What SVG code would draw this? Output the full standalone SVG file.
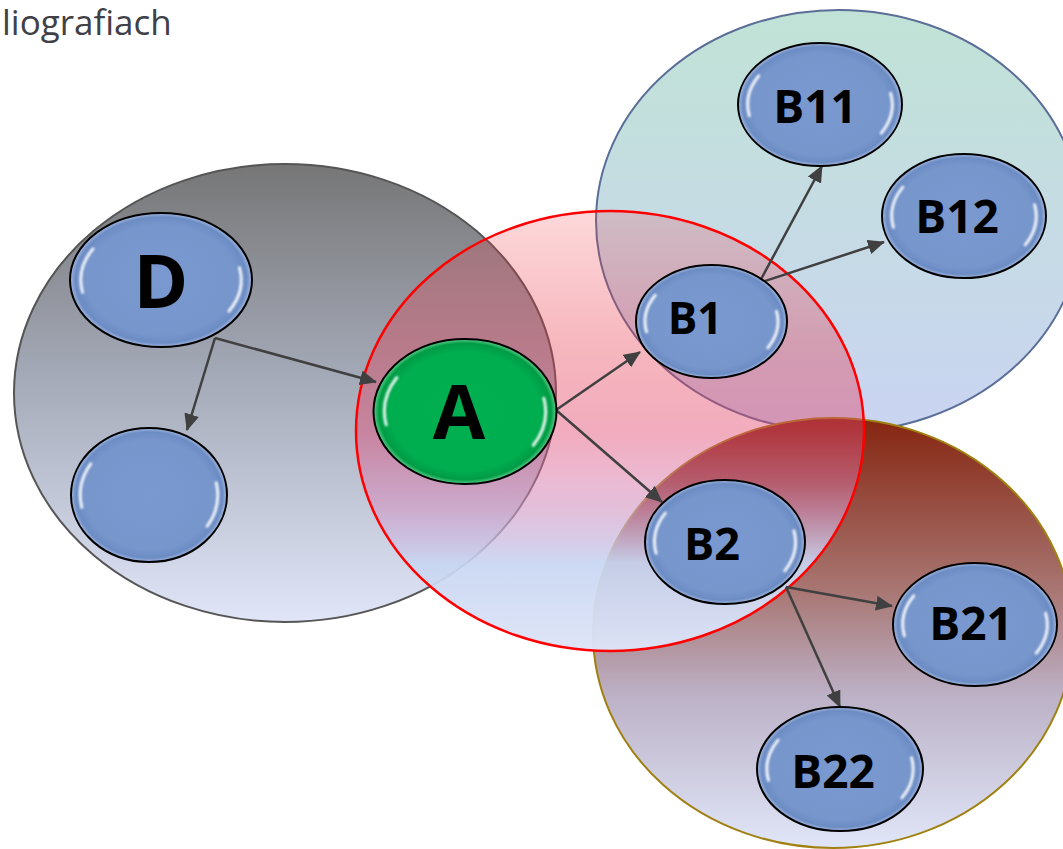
<svg xmlns="http://www.w3.org/2000/svg" width="1063" height="849" viewBox="0 0 1063 849">
<style>
.big{stroke-width:2}
.node{stroke:#000;stroke-width:2}
.hl{fill:none;stroke:#fff;stroke-width:3;stroke-linecap:round;opacity:.9;filter:url(#blur)}
.lbl{font-family:"Open Sans","Liberation Sans",Arial,sans-serif;font-weight:700;fill:#000;text-anchor:middle}
.edge{stroke:#404040;stroke-width:2.5;fill:none;marker-end:url(#ah)}
.title{font-family:"Open Sans","Liberation Sans",sans-serif;font-size:35px;fill:#404048}
</style>
<defs>
<filter id="blur" x="-50%" y="-50%" width="200%" height="200%"><feGaussianBlur stdDeviation="0.8"/></filter>
<marker id="ah" markerUnits="userSpaceOnUse" markerWidth="17" markerHeight="15" refX="16" refY="7.5" orient="auto">
<path d="M0,0 L17,7.5 L0,15 z" fill="#404040"/>
</marker>
<linearGradient id="gGray" x1="0" y1="0" x2="0" y2="1">
<stop offset="0" stop-color="#767676"/>
<stop offset="0.45" stop-color="#a3a8b6"/>
<stop offset="1" stop-color="#e0e6f8"/>
</linearGradient>
<linearGradient id="gTeal" x1="0" y1="0" x2="0" y2="1">
<stop offset="0" stop-color="#c1e3d6"/>
<stop offset="1" stop-color="#cad4f2"/>
</linearGradient>
<linearGradient id="gBrown" x1="0" y1="0" x2="0" y2="1">
<stop offset="0" stop-color="#862510"/>
<stop offset="0.4" stop-color="#a87672"/>
<stop offset="0.65" stop-color="#bdb2c8"/>
<stop offset="1" stop-color="#e0e6f8"/>
</linearGradient>
<linearGradient id="gRed" x1="0" y1="0" x2="0" y2="1">
<stop offset="0" stop-color="#f03c46" stop-opacity="0.2"/>
<stop offset="0.3" stop-color="#e63246" stop-opacity="0.35"/>
<stop offset="0.5" stop-color="#e1466e" stop-opacity="0.45"/>
<stop offset="0.62" stop-color="#d778aa" stop-opacity="0.5"/>
<stop offset="0.72" stop-color="#cdafd7" stop-opacity="0.7"/>
<stop offset="0.8" stop-color="#c8d6f2" stop-opacity="0.92"/>
<stop offset="1" stop-color="#dee4f7" stop-opacity="0.97"/>
</linearGradient>
<radialGradient id="gNode" cx="0.5" cy="0.5" r="0.5">
<stop offset="0" stop-color="#7a99d0"/>
<stop offset="0.82" stop-color="#7696cc"/>
<stop offset="0.94" stop-color="#6c8cc4"/>
<stop offset="1" stop-color="#a3b8e0"/>
</radialGradient>
<radialGradient id="gGreen" cx="0.5" cy="0.5" r="0.5">
<stop offset="0" stop-color="#00b050"/>
<stop offset="0.82" stop-color="#00ad4f"/>
<stop offset="0.94" stop-color="#009c45"/>
<stop offset="1" stop-color="#5fd08c"/>
</radialGradient>
</defs>
<rect width="1063" height="849" fill="#fff"/>
<text class="title" x="2" y="35">liografiach</text>

<g id="group-D">
<ellipse class="big" cx="285" cy="393" rx="271" ry="229" fill="url(#gGray)" stroke="#555"/>
</g>
<g id="group-B1">
<ellipse class="big" cx="839" cy="221" rx="243" ry="211" fill="url(#gTeal)" stroke="#5a6e98"/>
</g>
<g id="group-B2">
<ellipse class="big" cx="833" cy="633" rx="240" ry="215" fill="url(#gBrown)" stroke="#a08010"/>
</g>
<g id="group-A">
<ellipse cx="610" cy="431" rx="254" ry="220" fill="url(#gRed)" stroke="#ff0000" stroke-width="2.5"/>
</g>

<g id="connectors">
<line class="edge" x1="215" y1="338" x2="376" y2="382"/>
<line class="edge" x1="215" y1="338" x2="187" y2="430"/>
<line class="edge" x1="556" y1="410" x2="640" y2="352"/>
<line class="edge" x1="556" y1="410" x2="662" y2="502"/>
<line class="edge" x1="759" y1="283" x2="822" y2="166"/>
<line class="edge" x1="759" y1="283" x2="884" y2="242"/>
<line class="edge" x1="786" y1="587" x2="892" y2="606"/>
<line class="edge" x1="786" y1="587" x2="840" y2="707"/>
</g>

<g id="node-D" transform="translate(161,280)">
<ellipse class="node" rx="91" ry="67" fill="url(#gNode)"/>
<path class="hl" d="M -78.4 12.3 A 80.1 59 0 0 1 -67.9 -31.2"/>
<path class="hl" d="M 78.4 -12.3 A 80.1 59 0 0 1 67.9 31.2"/>
<text class="lbl" x="0" y="28" font-size="74">D</text>
</g>
<g id="node-blank" transform="translate(149,495)">
<ellipse class="node" rx="78" ry="67" fill="url(#gNode)"/>
<path class="hl" d="M -67.2 12.3 A 68.6 59 0 0 1 -58.2 -31.2"/>
<path class="hl" d="M 67.2 -12.3 A 68.6 59 0 0 1 58.2 31.2"/>
</g>
<g id="node-A" transform="translate(465,411.5)">
<ellipse class="node" rx="91.5" ry="72.5" fill="url(#gGreen)"/>
<path class="hl" d="M -78.8 13.3 A 80.5 63.8 0 0 1 -68.3 -33.8"/>
<path class="hl" d="M 78.8 -13.3 A 80.5 63.8 0 0 1 68.3 33.8"/>
<text class="lbl" x="-6" y="27.5" font-size="76">A</text>
</g>
<g id="node-B1" transform="translate(711.5,321.5)">
<ellipse class="node" rx="75.5" ry="56.5" fill="url(#gNode)"/>
<path class="hl" d="M -65 10.3 A 66.4 49.7 0 0 1 -56.3 -26.3"/>
<path class="hl" d="M 65 -10.3 A 66.4 49.7 0 0 1 56.3 26.3"/>
<text class="lbl" x="-16.5" y="12.5" font-size="44">B1</text>
</g>
<g id="node-B11" transform="translate(820,104.5)">
<ellipse class="node" rx="82" ry="61.5" fill="url(#gNode)"/>
<path class="hl" d="M -70.6 11.3 A 72.2 54.1 0 0 1 -61.2 -28.7"/>
<path class="hl" d="M 70.6 -11.3 A 72.2 54.1 0 0 1 61.2 28.7"/>
<text class="lbl" x="-5" y="18.5" font-size="46">B11</text>
</g>
<g id="node-B12" transform="translate(964,216)">
<ellipse class="node" rx="82" ry="62" fill="url(#gNode)"/>
<path class="hl" d="M -70.6 11.3 A 72.2 54.6 0 0 1 -61.2 -28.9"/>
<path class="hl" d="M 70.6 -11.3 A 72.2 54.6 0 0 1 61.2 28.9"/>
<text class="lbl" x="-7" y="17" font-size="46">B12</text>
</g>
<g id="node-B2" transform="translate(725,542)">
<ellipse class="node" rx="80" ry="62" fill="url(#gNode)"/>
<path class="hl" d="M -68.9 11.3 A 70.4 54.6 0 0 1 -59.7 -28.9"/>
<path class="hl" d="M 68.9 -11.3 A 70.4 54.6 0 0 1 59.7 28.9"/>
<text class="lbl" x="-13" y="18" font-size="45">B2</text>
</g>
<g id="node-B21" transform="translate(975,624.5)">
<ellipse class="node" rx="82" ry="61.5" fill="url(#gNode)"/>
<path class="hl" d="M -70.6 11.3 A 72.2 54.1 0 0 1 -61.2 -28.7"/>
<path class="hl" d="M 70.6 -11.3 A 72.2 54.1 0 0 1 61.2 28.7"/>
<text class="lbl" x="-4" y="15.5" font-size="46">B21</text>
</g>
<g id="node-B22" transform="translate(840,769)">
<ellipse class="node" rx="83" ry="62" fill="url(#gNode)"/>
<path class="hl" d="M -71.5 11.3 A 73 54.6 0 0 1 -61.9 -28.9"/>
<path class="hl" d="M 71.5 -11.3 A 73 54.6 0 0 1 61.9 28.9"/>
<text class="lbl" x="-7" y="19" font-size="46">B22</text>
</g>
</svg>
